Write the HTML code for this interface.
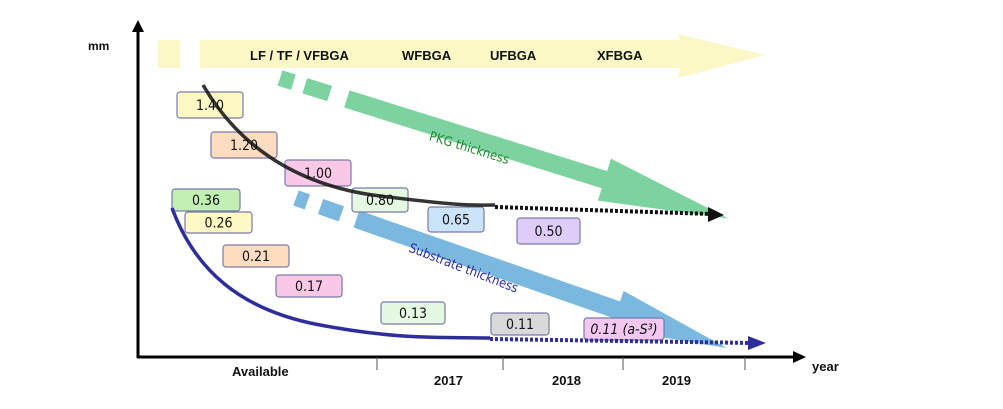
<!DOCTYPE html>
<html><head><meta charset="utf-8"><style>
body{margin:0;background:#fff;width:1003px;height:409px;overflow:hidden}
svg{display:block}
.b{font-family:"Liberation Sans",sans-serif;font-weight:bold;fill:#111}
.v{font-family:"DejaVu Sans Condensed","DejaVu Sans","Liberation Sans",sans-serif;font-size:14px;fill:#111;text-anchor:middle}
</style></head><body>
<svg width="1003" height="409">
<g>
<rect x="158" y="40" width="22" height="28" fill="#fbf8c6"/>
<polygon points="200,40 680,40 678,34 765,55 678,78 680,68 200,68" fill="#fbf8c6"/>
<text class="b" x="250" y="60" font-size="13">LF / TF / VFBGA</text>
<text class="b" x="402" y="60" font-size="13">WFBGA</text>
<text class="b" x="490" y="60" font-size="13">UFBGA</text>
<text class="b" x="597" y="60" font-size="13">XFBGA</text>
</g>
<g fill="#7dd3a0" transform="translate(280,78) rotate(17.4)">
<rect x="0" y="-8" width="14" height="16"/>
<rect x="26" y="-8" width="26" height="16"/>
<polygon points="70,-9 340,-9 340,-22 470,0 340,22 340,9 70,9"/>
</g>
<text x="468" y="152" font-family="DejaVu Sans Condensed,DejaVu Sans,sans-serif" font-size="13" fill="#1a8a2a" text-anchor="middle" transform="rotate(17 468 152)">PKG thickness</text>
<g fill="#7ab8e0" transform="translate(296,198) rotate(19.2)">
<rect x="0" y="-8" width="12" height="16"/>
<rect x="26" y="-8" width="22" height="16"/>
<polygon points="64,-9 340,-9 340,-20 456,0 340,20 340,9 64,9"/>
</g>
<text x="462" y="272" font-family="DejaVu Sans Condensed,DejaVu Sans,sans-serif" font-size="13" fill="#2a2a9a" text-anchor="middle" transform="rotate(21 462 272)">Substrate thickness</text>
<g id="boxes"></g>
<path d="M203,85 C235,140 290,185 380,196 S470,205 495,205" fill="none" stroke="#111" stroke-width="3.5" stroke-opacity="0.85"/>
<path d="M495,207 L712,214" fill="none" stroke="#111" stroke-width="4" stroke-dasharray="3,2"/>
<polygon points="708,207 724,215 708,222" fill="#111"/>
<path d="M172,208 C195,270 240,310 320,325 S440,337 490,338" fill="none" stroke="#2e2e9a" stroke-width="3.5"/>
<path d="M490,339 L752,343" fill="none" stroke="#2e2e9a" stroke-width="4" stroke-dasharray="3,2"/>
<polygon points="748,336 766,343 748,350" fill="#2e2e9a"/>
<g id="labels"></g>
<g>
<line x1="138" y1="30" x2="138" y2="358" stroke="#000" stroke-width="3"/>
<polygon points="132,32 138,20 144,32" fill="#000"/>
<line x1="137" y1="357" x2="795" y2="357" stroke="#000" stroke-width="3"/>
<polygon points="793,351 806,357 793,363" fill="#000"/>
<line x1="377" y1="357" x2="377" y2="370" stroke="#555"/>
<line x1="503" y1="357" x2="503" y2="370" stroke="#555"/>
<line x1="623" y1="357" x2="623" y2="370" stroke="#555"/>
<line x1="745" y1="357" x2="745" y2="370" stroke="#555"/>
<text class="b" x="88" y="50" font-size="12">mm</text>
<text class="b" x="812" y="371" font-size="13">year</text>
<text class="b" x="232" y="376" font-size="13">Available</text>
<text class="b" x="434" y="385" font-size="13">2017</text>
<text class="b" x="552" y="385" font-size="13">2018</text>
<text class="b" x="662" y="385" font-size="13">2019</text>
</g>
</svg>
<script>
const boxLabels=["1.40","1.20","1.00","0.80","0.65","0.50","0.36","0.26","0.21","0.17","0.13","0.11","0.11 (a-S³)"];
const boxFills=["#fdf8c4","#fddcc0","#f9c8e6","#e4f8e2","#cce4fa","#ddcdf8","#c2f0b4","#fdf8c4","#fddcc0","#f9c8e6","#e4f8e2","#d9d9d9","#f3c8f0"];
const boxRects=[[177,92,66,26],[211,132,66,26],[285,160,66,26],[352,188,56,24],[428,207,56,25],[517,218,63,26],[172,189,68,22],[185,212,67,21],[223,245,66,22],[276,275,66,22],[381,302,64,22],[491,313,58,22],[584,318,80,22]];
const g=document.getElementById('boxes');
const gl=document.getElementById('labels');
const NS='http://www.w3.org/2000/svg';
boxLabels.forEach((t,i)=>{
 const [x,y,w,h]=boxRects[i];
 const r=document.createElementNS(NS,'rect');
 r.setAttribute('x',x);r.setAttribute('y',y);r.setAttribute('width',w);r.setAttribute('height',h);r.setAttribute('rx',3);
 r.setAttribute('fill',boxFills[i]);r.setAttribute('stroke','#7a7aa8');r.setAttribute('stroke-width','1.2');
 
 
 g.appendChild(r);
 const tx=document.createElementNS(NS,'text');
 tx.setAttribute('class','v');tx.setAttribute('x',x+w/2);tx.setAttribute('y',y+h/2+5);
 if(i===12){tx.setAttribute('font-style','italic');tx.setAttribute('font-size','13');}
 tx.textContent=t;
 
 
 gl.appendChild(tx);
});
</script>
</body></html>
